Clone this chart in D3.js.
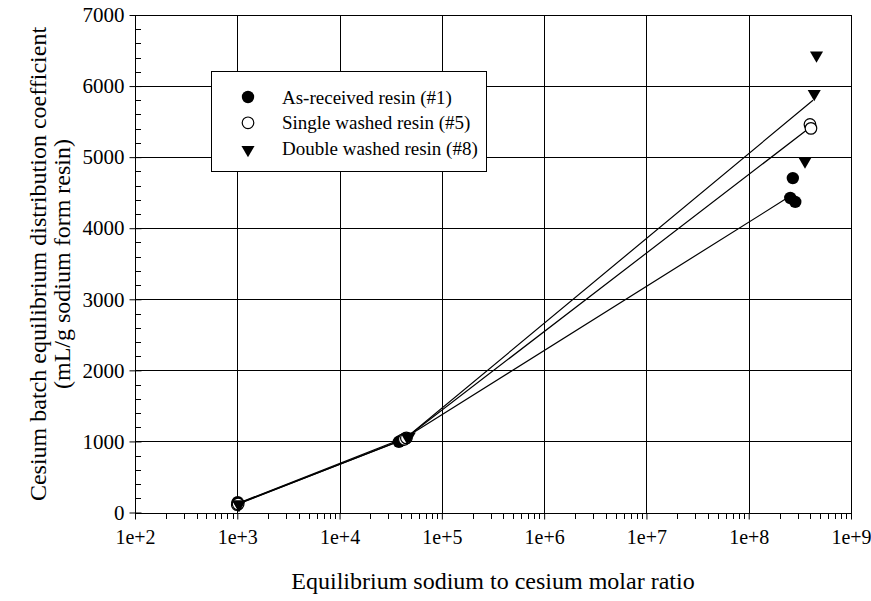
<!DOCTYPE html>
<html><head><meta charset="utf-8">
<script src="https://cdn.jsdelivr.net/npm/d3@7"></script>
<style>body{margin:0;background:#fff}svg{display:block}text{font-family:"Liberation Serif","Times New Roman",serif;fill:#000}</style>
</head><body><svg id="c" width="871" height="601"></svg>
<script>
// ---- data ----
const xTicks = [1e2,1e3,1e4,1e5,1e6,1e7,1e8,1e9];
const xTickLabels = ["1e+2","1e+3","1e+4","1e+5","1e+6","1e+7","1e+8","1e+9"];
const yTicks = [0,1000,2000,3000,4000,5000,6000,7000];
const seriesNames = ["As-received resin (#1)","Single washed resin (#5)","Double washed resin (#8)"];
// measured points [ratio, Kd]
const asReceived = [[1000,130],[1010,145],[3.8e4,995],[4.1e4,1020],[2.7e8,4705],[2.55e8,4425],[2.85e8,4370]];
const singleWashed = [[1000,110],[1020,120],[4.3e4,1030],[4.5e4,1050],[3.97e8,5460],[4.06e8,5405]];
const doubleWashed = [[1040,125],[1030,135],[4.6e4,1075],[4.8e4,1090],[4.6e8,6450],[4.37e8,5910],[3.55e8,4960]];
// connecting lines through mean values [ratio, Kd]
const asReceivedLine = [[1000,120],[3.9e4,1005],[2.35e8,4420]];
const singleWashedLine = [[1000,115],[4.3e4,1035],[4.0e8,5420]];
const doubleWashedLine = [[1000,125],[4.6e4,1065],[4.25e8,5800]];

const svg = d3.select("#c");
const L=135, R=851, T=15, B=512.5;
const x = d3.scaleLog().domain([1e2,1e9]).range([L,R]);
const y = d3.scaleLinear().domain([0,7000]).range([B,T]);

// grid
const g = svg.append("g").attr("shape-rendering","crispEdges");
g.selectAll(".gx").data(xTicks.slice(1,-1)).join("line")
  .attr("x1",d=>Math.round(x(d))+0.5).attr("x2",d=>Math.round(x(d))+0.5)
  .attr("y1",T).attr("y2",B).attr("stroke","#000");
g.selectAll(".gy").data(yTicks.slice(1,-1)).join("line")
  .attr("x1",L).attr("x2",R)
  .attr("y1",d=>Math.round(y(d))+0.5).attr("y2",d=>Math.round(y(d))+0.5).attr("stroke","#000");

// frame
svg.append("rect").attr("x",L+0.5).attr("y",Math.round(T)+0.5).attr("width",R-L).attr("height",Math.round(B)-Math.round(T))
  .attr("fill","none").attr("stroke","#000").attr("shape-rendering","crispEdges");

// x axis
const xAxis = svg.append("g").attr("transform",`translate(0,${Math.round(B)+0.5})`);
xAxis.call(d3.axisBottom(x).tickValues(xTicks).tickFormat((d,i)=>xTickLabels[i]).tickSize(6).tickPadding(10))
  .call(a=>a.select(".domain").remove());
xAxis.selectAll("text").style("font-size","20px").attr("font-family","Liberation Serif");
const minorX = [];
for (let e=2;e<9;e++) for (let m=2;m<10;m++) minorX.push(m*Math.pow(10,e));
xAxis.selectAll(".mx").data(minorX).join("line")
  .attr("x1",d=>Math.round(x(d))+0.5).attr("x2",d=>Math.round(x(d))+0.5).attr("y1",0).attr("y2",5)
  .attr("stroke","#000").attr("shape-rendering","crispEdges");

// y axis
const yAxis = svg.append("g").attr("transform",`translate(${L+0.5},0)`);
yAxis.call(d3.axisLeft(y).tickValues(yTicks).tickFormat(d3.format("d")).tickSize(6).tickPadding(5))
  .call(a=>a.select(".domain").remove());
yAxis.selectAll(".tick line").attr("x2",-6).attr("x1",6);
yAxis.selectAll("text").style("font-size","21px").attr("font-family","Liberation Serif");
const minorY = d3.range(200,7000,200).filter(v=>v%1000!==0);
yAxis.selectAll(".my").data(minorY).join("line")
  .attr("x1",0).attr("x2",5).attr("y1",d=>Math.round(y(d))+0.5).attr("y2",d=>Math.round(y(d))+0.5)
  .attr("stroke","#000").attr("shape-rendering","crispEdges");

// lines
const line = d3.line().x(d=>x(d[0])).y(d=>y(d[1]));
[asReceivedLine,singleWashedLine,doubleWashedLine].forEach(ld=>{
  svg.append("path").datum(ld).attr("d",line).attr("fill","none").attr("stroke","#000").attr("stroke-width",1.2);
});

// markers
const tri = d3.symbol().type(d3.symbolTriangle).size(74);
function drawMarker(sel, kind){
  if(kind===0) sel.append("circle").attr("r",6.2).attr("fill","#000");
  else if(kind===1) sel.append("circle").attr("r",5.8).attr("fill","#fff").attr("stroke","#000").attr("stroke-width",1.2);
  else sel.append("path").attr("d",tri).attr("transform","rotate(180) translate(0,-1.2)").attr("fill","#000");
}
[asReceived,singleWashed,doubleWashed].forEach((data,k)=>{
  svg.selectAll(null).data(data).join("g")
    .attr("transform",d=>`translate(${x(d[0])},${y(d[1])})`)
    .each(function(){drawMarker(d3.select(this),k);});
});

// legend
const lg = svg.append("g");
const lbox = lg.append("rect").attr("x",211.5).attr("y",71.5).attr("height",100)
  .attr("fill","#fff").attr("stroke","#000").attr("shape-rendering","crispEdges");
let maxR = 0;
seriesNames.forEach((n,i)=>{
  const yy = 97 + i*25.8;
  const m = lg.append("g").attr("transform",`translate(248,${yy})`);
  drawMarker(m,i);
  const t = lg.append("text").attr("x",282).attr("y",yy).attr("dy","0.35em").style("font-size","19px").text(n);
  maxR = Math.max(maxR, 282 + t.node().getComputedTextLength());
});
lbox.attr("width", Math.ceil(maxR + 8 - 211.5));

// axis titles
svg.append("text").attr("x",493).attr("y",589).attr("text-anchor","middle").style("font-size","24px")
  .text("Equilibrium sodium to cesium molar ratio");
svg.append("text").attr("transform","translate(38,264) rotate(-90)").attr("dy","0.35em").attr("text-anchor","middle").style("font-size","24px")
  .text("Cesium batch equilibrium distribution coefficient");
svg.append("text").attr("transform","translate(62,264) rotate(-90)").attr("dy","0.35em").attr("text-anchor","middle").style("font-size","24px")
  .text("(mL/g sodium form resin)");
</script></body></html>
